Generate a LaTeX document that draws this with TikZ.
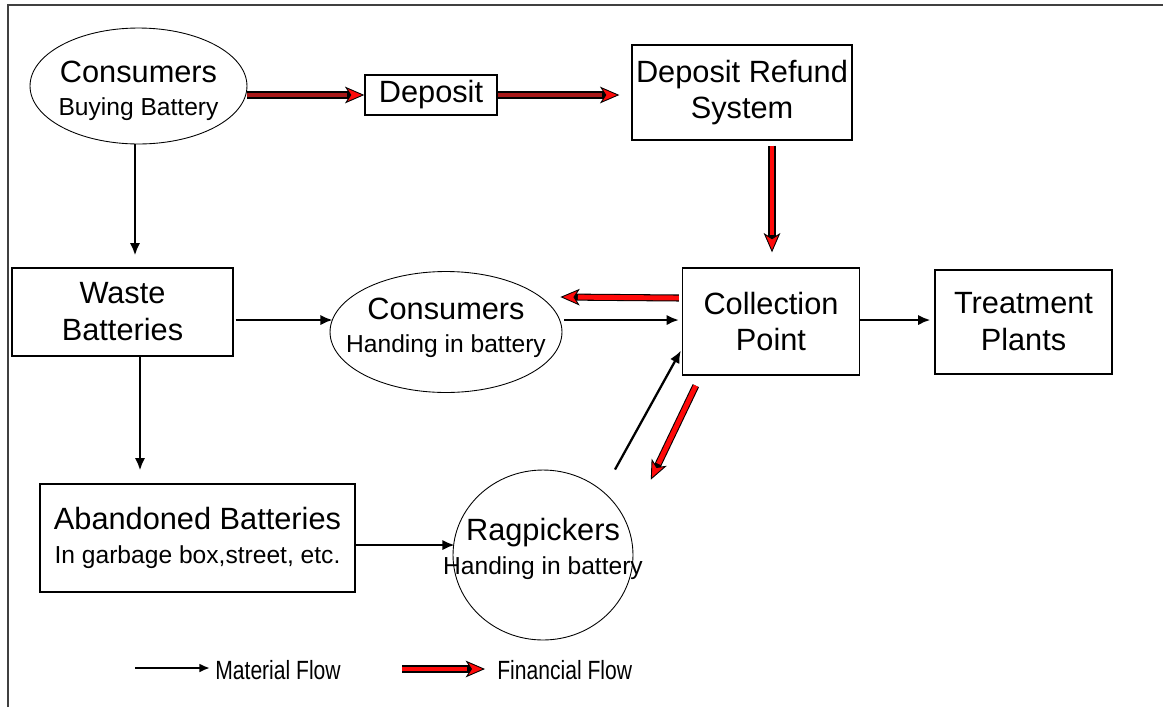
\documentclass[tikz,border=0pt]{standalone}
\usepackage{fontspec}
\setmainfont{Liberation Sans}
\usetikzlibrary{arrows.meta,shapes.geometric,calc}
\definecolor{finred}{HTML}{FF0A0A}
\definecolor{findark}{HTML}{A81818}
\definecolor{framegray}{HTML}{404040}
\begin{document}
\begin{tikzpicture}[x=0.02cm,y=-0.02cm,
  big/.style={font=\fontsize{17.5}{21}\selectfont},
  box/.style={draw, line width=0.8pt, rectangle, inner sep=0pt, align=center, big},
  oval/.style={draw, line width=0.5pt, ellipse, inner sep=0pt},
  ovaltext/.style={inner sep=0pt, align=center, big},
  matflow/.style={line width=1.3pt, -{Latex[length=7pt,width=6pt]}},
  finflow/.style={line width=4pt, draw=black,
     -{Stealth[length=11pt,width=9.5pt,inset=3pt,line width=0.5pt,fill=finred]},
     postaction={draw=#1, line width=2.8pt, -, shorten >=10pt}},
  lbl/.style={inner sep=0pt, anchor=west, font=\fontsize{15}{18}\selectfont},
]
\useasboundingbox (0,0) rectangle (1163,707);
% frame
\draw[framegray, line width=1.2pt] (8,707) -- (8,5) -- (1163,5);

% nodes
\node[oval, minimum width=4.34cm, minimum height=2.32cm] (c1) at (138.5,86) {};
\node[ovaltext] (c1t) at (138.5,91)
  {Consumers\\[-2pt]{\fontsize{14}{16}\selectfont Buying Battery}};
\node[box, minimum width=2.64cm, minimum height=0.8cm] (dep) at (431,95) {Deposit};
\node[box, minimum width=4.4cm, minimum height=1.9cm] (drs) at (742,92.5)
  {Deposit Refund\\System};
\node[box, minimum width=4.42cm, minimum height=1.76cm] (w) at (122.5,312)
  {Waste\\Batteries};
\node[oval, minimum width=4.64cm, minimum height=2.42cm] (c2) at (446,332) {};
\node[ovaltext] (c2t) at (446,328)
  {Consumers\\[-2pt]{\fontsize{14}{16}\selectfont Handing in battery}};
\node[box, minimum width=3.54cm, minimum height=2.14cm] (cp) at (771,321.5)
  {Collection\\Point};
\node[box, minimum width=3.54cm, minimum height=2.08cm] (tp) at (1023.5,322)
  {Treatment\\Plants};
\node[box, minimum width=6.3cm, minimum height=2.16cm] (ab) at (197.5,538)
  {Abandoned Batteries\\[-2pt]{\fontsize{14}{16}\selectfont In garbage box,street, etc.}};
\node[oval, minimum width=3.6cm, minimum height=3.4cm] (rag) at (543,555) {};
\node[ovaltext] (ragt) at (543,549)
  {Ragpickers\\[-2pt]{\fontsize{14}{16}\selectfont Handing in battery}};

% financial flows
\draw[finflow=findark] (dep.west -| c1.east) -- (dep.west);
\draw[finflow=findark] (dep.east) -- ($(dep.east -| drs.west)+(-12,0)$);
\draw[finflow=finred] ($(cp.north |- drs.south)+(1,5)$) -- ($(cp.north)+(1,-15)$);
\draw[finflow=finred] ($(cp.west)+(-3,-23.5)$) -- ($(c2.east)+(-2,-35)$);
\draw[finflow=finred] ($(cp.south west)+(14,10)$) -- ($(cp.south west)+(-31,104)$);

% material flows
\coordinate (c1d) at (c1.south -| 135,0);
\draw[matflow] (c1d) -- ($(c1d |- w.north)+(0,-12)$);
\draw[matflow] ($(w.east)+(2,8)$) -- ($(c2.west)+(3,-12)$);
\draw[matflow] ($(c2.east)+(2,-12)$) -- ($(cp.west)+(-3,-1.5)$);
\draw[matflow] ($(cp.east)+(0,-1.5)$) -- ($(tp.west)+(-4,-2)$);
\coordinate (wd) at ($(w.south)+(17.5,0)$);
\draw[matflow] (wd) -- ($(wd |- ab.north)+(0,-13)$);
\draw[matflow] ($(ab.east)+(0,7)$) -- ($(ab.east -| rag.west)+(2,7)$);
\draw[matflow] ($(rag.north)+(72,0)$) -- ($(cp.south west)+(-1,-25)$);

% legend
\coordinate (lm0) at (135,668);
\node[lbl] (lm) at (215,670) {\scalebox{0.8}[1]{Material Flow}};
\draw[line width=1.3pt, -{Latex[length=6pt,width=5pt]}] (lm0) -- ($(lm.west)+(-5,-2)$);
\coordinate (lf0) at (402,669);
\node[lbl] (lf) at (497,670) {\scalebox{0.8}[1]{Financial Flow}};
\draw[finflow=finred] (lf0) -- ($(lf.west)+(-12,-1)$);
\end{tikzpicture}
\end{document}
